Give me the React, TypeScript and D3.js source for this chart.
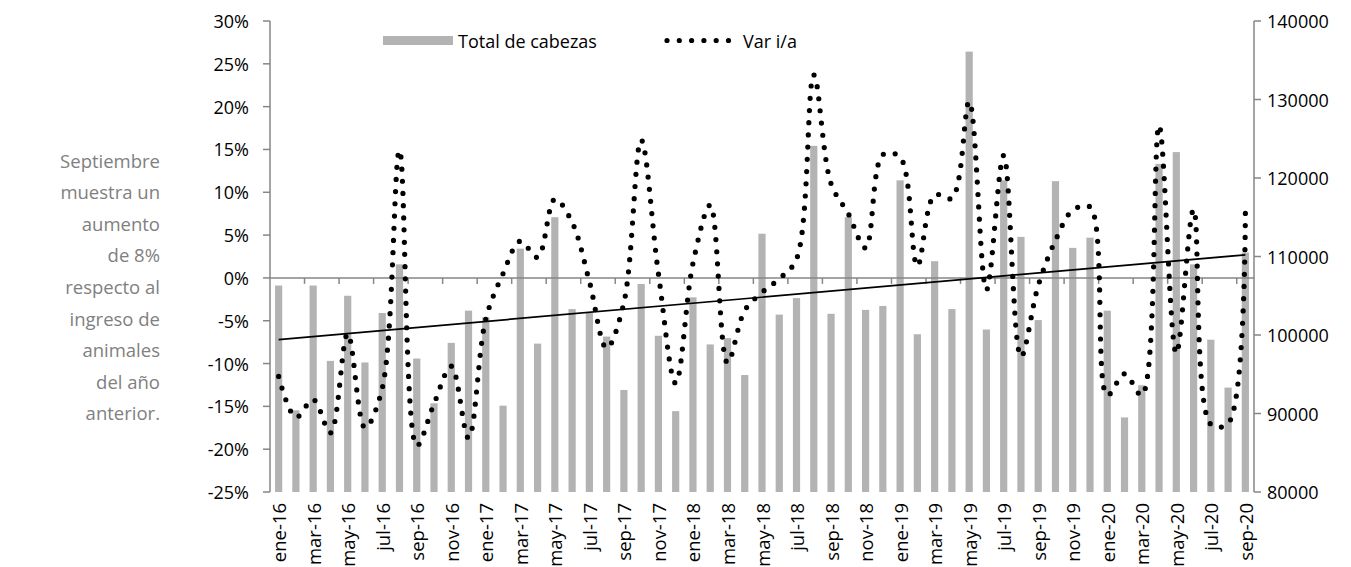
import React from 'react';
import * as d3 from 'd3';

// ---- Data ----
const categories: string[] = [
  'ene-16','feb-16','mar-16','abr-16','may-16','jun-16','jul-16','ago-16','sep-16','oct-16','nov-16','dic-16',
  'ene-17','feb-17','mar-17','abr-17','may-17','jun-17','jul-17','ago-17','sep-17','oct-17','nov-17','dic-17',
  'ene-18','feb-18','mar-18','abr-18','may-18','jun-18','jul-18','ago-18','sep-18','oct-18','nov-18','dic-18',
  'ene-19','feb-19','mar-19','abr-19','may-19','jun-19','jul-19','ago-19','sep-19','oct-19','nov-19','dic-19',
  'ene-20','feb-20','mar-20','abr-20','may-20','jun-20','jul-20','ago-20','sep-20',
];

const totalCabezas: number[] = [
  106300, 90400, 106300, 96700, 105000, 96500, 102800, 109000, 97000, 91300, 99000, 103100,
  102250, 91000, 111000, 98900, 115000, 103300, 102800, 99800, 93000, 106500, 99900, 90300,
  104800, 98800, 99600, 94900, 112900, 102600, 104700, 124100, 102700, 115000, 103200, 103700,
  119700, 100100, 109400, 103300, 136100, 100700, 119700, 112500, 101900, 119600, 111100, 112400,
  103100, 89500, 93600, 121800, 123300, 109000, 99400, 93300, 110500,
];

// Var i/a in percent
const varIA: number[] = [
  -11.5, -16.3, -14.2, -18.1, -6.5, -17.5, -12.9, 14.9, -19.6, -14.7, -10.3, -18.7,
  -4.8, 0.5, 4.3, 2.4, 9.2, 6.5, -0.4, -8.2, -2.9, 16.1, 0.5, -12.3,
  1.7, 8.5, -9.9, -3.8, -1.7, -0.1, 2.2, 23.7, 11.0, 7.5, 3.5, 14.4,
  14.1, 1.4, 9.7, 9.3, 20.6, -1.4, 14.3, -9.2, -0.9, 4.4, 7.9, 8.3,
  -13.7, -11.2, -13.7, 17.8, -8.8, 8.0, -17.1, -17.0, 7.6,
];

// Linear trend of Var i/a as drawn in the picture (value at first and last month, %)
const trendEnds: number[] = [-7.2, 2.7];

const leftTicks: number[] = [-25, -20, -15, -10, -5, 0, 5, 10, 15, 20, 25, 30];
const rightTicks: number[] = [80000, 90000, 100000, 110000, 120000, 130000, 140000];

const annotationLines: string[] = [
  'Septiembre', 'muestra un', 'aumento', 'de 8%', 'respecto al', 'ingreso de', 'animales', 'del año', 'anterior.',
];

const legendBars = 'Total de cabezas';
const legendLine = 'Var i/a';

// ---- Layout ----
const W = 1351;
const H = 567;
const L = 270;
const R = 1254;
const T = 21;
const B = 492;

const FONT = "'Open Sans', sans-serif";
const AXIS = '#868686';
const BAR = '#b3b3b3';

export default function App() {
  const x = d3.scaleBand<string>().domain(categories).range([L, R]).padding(0);
  const bw = x.bandwidth();
  const cx = (c: string) => (x(c) as number) + bw / 2;
  const yL = d3.scaleLinear().domain([-25, 30]).range([B, T]);
  const yR = d3.scaleLinear().domain([80000, 140000]).range([B, T]);

  const barW = 7.2;

  const line = d3
    .line<number>()
    .x((_, i) => cx(categories[i]))
    .y((d) => yL(d))
    .curve(d3.curveCatmullRom.alpha(0.5));

  const n = categories.length;
  const zeroY = yL(0);

  return (
    <svg
      width={W}
      height={H}
      style={{ position: 'absolute', left: 0, top: 0, display: 'block', background: '#fff' }}
      fontFamily={FONT}
    >
      <rect x={0} y={0} width={W} height={H} fill="#fff" />

      {/* annotation */}
      {annotationLines.map((t, i) => (
        <text
          key={t}
          x={160}
          y={160 + i * 31.6}
          textAnchor="end"
          dominantBaseline="central"
          fontSize={18.5}
          fill="#808080"
        >
          {t}
        </text>
      ))}

      {/* bars */}
      {categories.map((c, i) => (
        <rect
          key={c}
          x={cx(c) - barW / 2}
          y={yR(totalCabezas[i])}
          width={barW}
          height={yR(80000) - yR(totalCabezas[i])}
          fill={BAR}
        />
      ))}

      {/* zero line with category ticks */}
      <line x1={L} x2={R} y1={zeroY} y2={zeroY} stroke={AXIS} strokeWidth={1.5} />
      {categories.map((c, i) =>
        i > 0 && i % 2 === 0 ? (
          <line key={'t' + c} x1={x(c) as number} x2={x(c) as number} y1={zeroY} y2={zeroY + 6} stroke={AXIS} strokeWidth={1.5} />
        ) : null
      )}

      {/* left axis */}
      <line x1={L} x2={L} y1={T} y2={B} stroke={AXIS} strokeWidth={1.5} />
      {leftTicks.map((v) => (
        <g key={'l' + v}>
          <line x1={L - 7} x2={L} y1={yL(v)} y2={yL(v)} stroke={AXIS} strokeWidth={1.5} />
          <text x={L - 21} y={yL(v)} textAnchor="end" dominantBaseline="central" fontSize={18} fill="#000">
            {v + '%'}
          </text>
        </g>
      ))}

      {/* right axis */}
      <line x1={R} x2={R} y1={T} y2={B} stroke={AXIS} strokeWidth={1.5} />
      {rightTicks.map((v) => (
        <g key={'r' + v}>
          <line x1={R} x2={R + 7} y1={yR(v)} y2={yR(v)} stroke={AXIS} strokeWidth={1.5} />
          <text x={R + 13} y={yR(v)} textAnchor="start" dominantBaseline="central" fontSize={18} fill="#000">
            {String(v)}
          </text>
        </g>
      ))}

      {/* x labels */}
      {categories.map((c, i) =>
        i % 2 === 0 ? (
          <text
            key={'x' + c}
            x={cx(c)}
            y={503}
            transform={`rotate(-90, ${cx(c)}, 503)`}
            textAnchor="end"
            dominantBaseline="central"
            fontSize={18.5}
            fill="#000"
          >
            {c}
          </text>
        ) : null
      )}

      {/* trend line */}
      <line
        x1={cx(categories[0])}
        x2={cx(categories[n - 1])}
        y1={yL(trendEnds[0])}
        y2={yL(trendEnds[1])}
        stroke="#000"
        strokeWidth={1.7}
      />

      {/* dotted var line */}
      <path
        d={line(varIA) as string}
        fill="none"
        stroke="#000"
        strokeWidth={5.2}
        strokeLinecap="round"
        strokeDasharray="0 12.2"
      />

      {/* legend */}
      <rect x={383} y={36} width={70} height={9} fill={BAR} />
      <text x={458} y={40.5} dominantBaseline="central" fontSize={18} fill="#000">
        {legendBars}
      </text>
      <path d="M667,40.5 L729,40.5" stroke="#000" strokeWidth={5.2} strokeLinecap="round" strokeDasharray="0 12.3" />
      <text x={743} y={40.5} dominantBaseline="central" fontSize={18} fill="#000">
        {legendLine}
      </text>
    </svg>
  );
}
